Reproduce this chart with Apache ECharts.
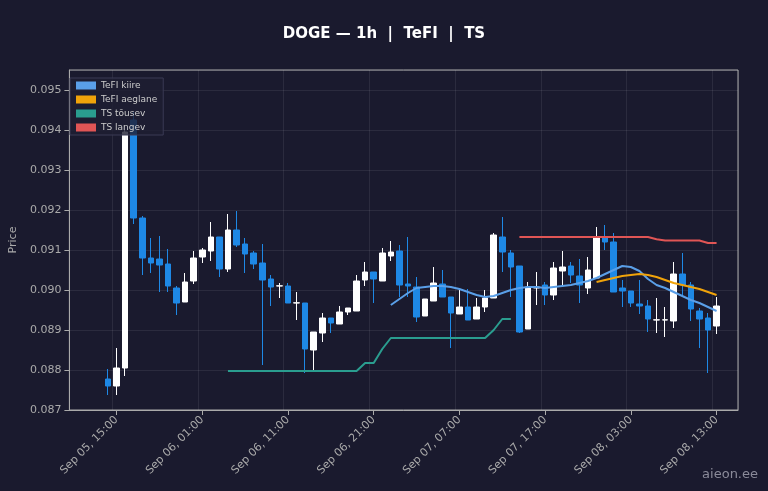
<!DOCTYPE html>
<html><head><meta charset="utf-8">
<script src="https://cdn.jsdelivr.net/npm/echarts@6/dist/echarts.min.js"></script>
<style>html,body{margin:0;padding:0;background:#1a1a2e;}#c{width:768px;height:491px;}</style>
</head><body><div id="c"></div>
<script>
// candles: [open, close, low, high]
const candles = [
[0.087775,0.0876,0.087375,0.088025],[0.0876,0.08805,0.087375,0.08855],[0.08805,0.09395,0.08785,0.094125],[0.09425,0.0918,0.09165,0.09445],
[0.0918,0.0908,0.090375,0.09185],[0.0908,0.090675,0.090425,0.0913],[0.090775,0.090625,0.08995,0.09135],[0.09065,0.0901,0.08995,0.091025],
[0.09005,0.089675,0.089375,0.0901],[0.0897,0.0902,0.0897,0.090425],[0.090225,0.0908,0.09015,0.090975],[0.090825,0.091,0.090675,0.09105],
[0.090975,0.091325,0.090725,0.0917],[0.091325,0.090525,0.090325,0.091325],[0.090525,0.0915,0.09045,0.0919],[0.0915,0.091125,0.091075,0.091975],
[0.09115,0.0909,0.090425,0.0913],[0.090925,0.09065,0.090525,0.090975],[0.090675,0.09025,0.088125,0.09115],[0.090275,0.090075,0.0896,0.090375],
[0.0901,0.090105,0.0898,0.090175],[0.0901,0.089675,0.089675,0.090175],[0.089675,0.08968,0.08925,0.08995],[0.089675,0.088525,0.087925,0.089675],
[0.0885,0.08895,0.088,0.08895],[0.088925,0.0893,0.0887,0.089425],[0.0893,0.089175,0.088925,0.0893],[0.08915,0.08945,0.08915,0.0896],
[0.08945,0.08955,0.089375,0.08955],[0.089475,0.090225,0.089475,0.090375],[0.09025,0.09045,0.0901,0.0907],[0.09045,0.090275,0.089675,0.09045],
[0.090225,0.090925,0.090225,0.09105],[0.09085,0.09095,0.090725,0.091225],[0.090975,0.090125,0.089825,0.091125],[0.09015,0.0901,0.089825,0.091325],
[0.090075,0.089325,0.0892,0.090325],[0.08935,0.089775,0.08935,0.089775],[0.089725,0.090175,0.089725,0.090575],[0.09015,0.089825,0.089825,0.0905],
[0.089825,0.089425,0.08855,0.089825],[0.0894,0.089575,0.0894,0.090025],[0.089575,0.08925,0.08925,0.090025],[0.089275,0.089575,0.089275,0.0898],
[0.089575,0.0898,0.08945,0.09],[0.0898,0.091375,0.0898,0.091425],[0.091325,0.09095,0.09045,0.091825],[0.090925,0.090575,0.089825,0.091],
[0.0906,0.08895,0.088925,0.0906],[0.089025,0.090075,0.089025,0.0902],[0.09005,0.090075,0.089625,0.09045],[0.090125,0.089875,0.089625,0.0902],
[0.089875,0.09055,0.08975,0.0907],[0.090475,0.090575,0.090075,0.090975],[0.0906,0.090375,0.090175,0.0907],[0.09035,0.090125,0.089675,0.090775],
[0.09005,0.0905,0.0899,0.090825],[0.0903,0.0913,0.0903,0.091575],[0.0913,0.0912,0.091,0.091625],[0.0912,0.08995,0.08995,0.091425],
[0.09005,0.089975,0.089575,0.09025],[0.089975,0.089675,0.089575,0.089975],[0.08965,0.0896,0.0894,0.09025],[0.0896,0.089275,0.08895,0.08975],
[0.08925,0.089255,0.088925,0.0898],[0.08925,0.089255,0.088825,0.089575],[0.089225,0.0904,0.08905,0.0907],[0.0904,0.090125,0.089875,0.090925],
[0.090125,0.089525,0.089225,0.0902],[0.089475,0.089275,0.08855,0.08955],[0.0893,0.089,0.087925,0.089425],[0.0891,0.0896,0.0889,0.089825]
];
const tefiKiire = [0.089625,0.089775,0.089925,0.09005,0.090075,0.0901,0.0901,0.090075,0.090025,0.08995,0.089875,0.089825,0.08985,0.089925,0.09,0.09005,0.090075,0.090075,0.09005,0.090075,0.0901,0.090125,0.090175,0.090225,0.0903,0.0904,0.0905,0.0906,0.090575,0.090475,0.090275,0.090125,0.09005,0.08995,0.08985,0.08975,0.089675,0.089575,0.089475];
const tefiKiireStart = 33;
const tefiAeglane = [0.0902,0.09025,0.0903,0.09035,0.090375,0.0904,0.090375,0.090325,0.09025,0.090175,0.090125,0.090075,0.090025,0.08995,0.089875];
const tefiAeglaneStart = 57;
const tsTousev = [0.087975,0.087975,0.087975,0.087975,0.087975,0.087975,0.087975,0.087975,0.087975,0.087975,0.087975,0.087975,0.087975,0.087975,0.087975,0.087975,0.088175,0.088175,0.088525,0.0888,0.0888,0.0888,0.0888,0.0888,0.0888,0.0888,0.0888,0.0888,0.0888,0.0888,0.0888,0.089,0.089275,0.089275];
const tsTousevStart = 14;
const tsLangev = [0.091325,0.091325,0.091325,0.091325,0.091325,0.091325,0.091325,0.091325,0.091325,0.091325,0.091325,0.091325,0.091325,0.091325,0.091325,0.091325,0.09127,0.091238,0.091238,0.091238,0.091238,0.091238,0.091175,0.091175];
const tsLangevStart = 48;
const padBefore = 4, padAfter = 2;
const startTime = Date.UTC(2025,8,5,14) - padBefore*3600000;
const mon = ['Jan','Feb','Mar','Apr','May','Jun','Jul','Aug','Sep','Oct','Nov','Dec'];
const N = padBefore + candles.length + padAfter;
const categories = [];
for (let i=0;i<N;i++){const d=new Date(startTime+i*3600000);
  categories.push(mon[d.getUTCMonth()]+' '+String(d.getUTCDate()).padStart(2,'0')+', '+String(d.getUTCHours()).padStart(2,'0')+':00');}
const labelStart = padBefore + 1;
function pad(arr, start){const o=new Array(N).fill('-');arr.forEach((v,i)=>o[padBefore+start+i]=v);return o;}
const candleData = new Array(N).fill('-'); candles.forEach((c,i)=>candleData[padBefore+i]=c);
const show = (i)=> (i-labelStart)%10===0 && i>=labelStart;
const chart = echarts.init(document.getElementById('c'));
const lineS = (name,data,color)=>({name,type:'line',data,symbol:'none',showSymbol:false,smooth:false,lineStyle:{color,width:2},itemStyle:{color},z:3});
chart.setOption({
  backgroundColor:'#1a1a2e',
  animation:false,
  title:{text:'DOGE — 1h  |  TeFI  |  TS',left:'center',top:22,textStyle:{color:'#ffffff',fontSize:15,fontWeight:'bold',fontFamily:'DejaVu Sans'}},
  graphic:[{type:'text',right:10,bottom:10,style:{text:'aieon.ee',fill:'#8a8a99',font:'13px DejaVu Sans'}}],
  legend:{left:70,top:78,orient:'vertical',itemWidth:20,itemHeight:8,itemGap:5,padding:[3,6],
    backgroundColor:'rgba(30,30,50,0.8)',borderColor:'#3a3a55',borderWidth:1,
    textStyle:{color:'#cccccc',fontSize:9,fontFamily:'DejaVu Sans'},icon:'rect',
    data:['TeFI kiire','TeFI aeglane','TS tõusev','TS langev']},
  grid:{left:65,right:30,top:70,bottom:81,show:true,borderColor:'#aaaaaa',borderWidth:1},
  xAxis:{type:'category',data:categories,boundaryGap:true,
    axisLine:{lineStyle:{color:'#aaaaaa'}},
    axisTick:{show:true,alignWithLabel:true,interval:show,lineStyle:{color:'#aaaaaa'}},
    axisLabel:{interval:show,rotate:45,color:'#aaaaaa',fontSize:11,fontFamily:'DejaVu Sans'},
    splitLine:{show:true,interval:show,lineStyle:{color:'rgba(255,255,255,0.08)'}}},
  yAxis:{type:'value',min:0.087,max:0.0955,interval:0.001,name:'Price',nameLocation:'middle',nameGap:45,
    nameTextStyle:{color:'#aaaaaa',fontSize:11,fontFamily:'DejaVu Sans'},
    axisLine:{show:true,lineStyle:{color:'#aaaaaa'}},axisTick:{show:true,lineStyle:{color:'#aaaaaa'}},
    axisLabel:{color:'#aaaaaa',fontSize:11,fontFamily:'DejaVu Sans',formatter:v=>v.toFixed(3),showMaxLabel:false},
    splitLine:{lineStyle:{color:'rgba(255,255,255,0.08)'}}},
  series:[
    {name:'candles',type:'candlestick',data:candleData,barWidth:6,
      itemStyle:{color:'#ffffff',color0:'#1e88e5',borderColor:'#ffffff',borderColor0:'#1e88e5',borderWidth:1},z:2},
    lineS('TeFI kiire',pad(tefiKiire,tefiKiireStart),'#5a9fe8'),
    lineS('TeFI aeglane',pad(tefiAeglane,tefiAeglaneStart),'#f0a30a'),
    lineS('TS tõusev',pad(tsTousev,tsTousevStart),'#2a9d8f'),
    lineS('TS langev',pad(tsLangev,tsLangevStart),'#e05555')
  ]
});
</script></body></html>
